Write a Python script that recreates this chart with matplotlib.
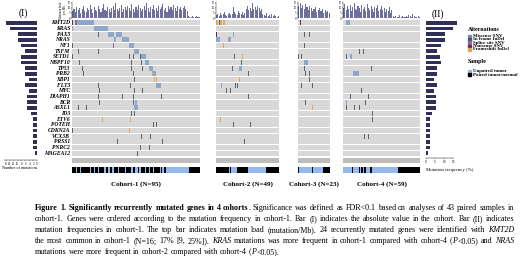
import numpy as np
import matplotlib
matplotlib.use('Agg')
import matplotlib.pyplot as plt
from matplotlib.colors import ListedColormap

W, H = 520, 256
plt.rcParams['font.family'] = ['Liberation Serif', 'DejaVu Serif']
fig = plt.figure(figsize=(5.2, 2.56), dpi=100)

# ---------------- data ----------------
genes = ["KMT2D", "KRAS", "PAX5", "NRAS", "NF1", "TSFM", "SETD1", "NBPF10", "TP53",
         "PRB2", "XBP1", "FLT3", "MYC", "DIAPH1", "BCR", "ASXL1", "ID3", "ETV6",
         "POTEH", "CDKN2A", "VCX3B", "PRSS1", "PNRC2", "MAGEA12"]

cohort_names = ["Cohort-1", "Cohort-2", "Cohort-3", "Cohort-4"]
cohort_sizes = [95, 49, 23, 59]

# Bar (I): number of mutations in cohort-1
mut_counts = [16, 14, 10, 10, 8, 6, 8, 8, 6, 6, 4, 6, 4, 5, 5, 5, 3, 2, 2, 2, 2, 2, 2, 1]
# Bar (II): mutation frequency (%) in cohort-1
mut_freq = [16.8, 14.7, 10.5, 10.5, 8.4, 5.8, 7.9, 8.4, 6.0, 6.3, 4.2, 6.3, 4.2, 5.3,
            5.3, 5.3, 3.2, 2.1, 2.1, 2.1, 2.1, 2.1, 2.1, 1.1]

alt_names = ["Missense SNV", "In frame InDel", "Splice site SNV", "Nonsense SNV", "Frameshift InDel"]
alt_codes = ["M", "I", "S", "N", "F"]

# mutation load (mutation/Mb) per sample
load_c1 = [7, 9, 6, 11, 8, 10, 5, 9, 12, 7,
           6, 10, 8, 13, 9, 5, 11, 8, 7, 12,
           9, 6, 10, 14, 8, 7, 11, 9, 6, 10,
           12, 8, 15, 9, 7, 10, 13, 6, 9, 11,
           8, 12, 10, 7, 14, 9, 6, 11, 8, 13,
           10, 7, 9, 12, 8, 15, 10, 6, 11, 9,
           13, 8, 10, 7, 12, 9, 11, 14, 8, 10,
           6, 12, 9, 11, 8, 13, 10, 7, 12, 9,
           11, 8, 10, 12, 9, 7, 2, 1, 1, 2,
           1, 1, 2, 1, 1]
load_c2 = [3, 4, 2, 5, 3, 4, 6, 3, 2, 4,
           5, 3, 4, 11, 6, 4, 3, 7, 5, 4,
           6, 3, 5, 9, 12, 8, 10, 7, 15, 9,
           11, 8, 12, 10, 7, 9, 4, 3, 2, 5,
           2, 3, 1, 4, 2, 3, 2, 1, 2]
load_c3 = [12, 15, 10, 13, 9, 14, 11, 8, 12, 10, 7, 9, 11, 6, 8, 10, 7, 9, 5, 8, 6, 7, 5]
load_c4 = [10, 14, 8, 12, 9, 13, 7, 11, 15, 9,
           8, 12, 10, 6, 13, 9, 11, 7, 14, 10,
           8, 12, 9, 6, 11, 10, 13, 7, 9, 12,
           8, 10, 6, 9, 7, 11, 5, 8, 2, 1,
           2, 1, 1, 3, 1, 2, 1, 1, 2, 1,
           3, 2, 1, 4, 2, 1, 1, 2, 1]

# sample type: 1 = paired tumor/normal, 0 = unpaired tumor
paired_c1 = ("1110110111" "1110110110" "1111011011" "0111011110" "1111011001"
             "0111011011" "0111101011" "0" "0000000000000000" "11111111")
paired_c2 = "1111111111" "0" "1" "0000" "111111111" "00000000000000" "1111111111"
paired_c3 = "1" "000000000" "1" "0000000" "11111"
paired_c4 = "0000000" "1" "0000" "1" "0" "1" "0" "11" "000" "1" "00000000000000000000" "11111111111111111"

# mutations: code + sample index
muts_c1 = {
    "KMT2D": "N0 N1 S2 S3 M4 M5 M6 M7 M8 M9 M10 M11 M12 M13 M14 M15",
    "KRAS": "M0 M16 M17 M18 M19 M20 M21 M22 M23 M24 M25 M26",
    "PAX5": "I19 M27 M28 M29 M30 M33 M34 M35 M36",
    "NRAS": "M31 M32 M37 M38 M39 M40 M41",
    "NF1": "I0 S30 M42 M43 M44 M45",
    "TSFM": "I4 I19 M46 M47 M48 M49",
    "SETD1": "I0 I42 I45 I50 M51 M52 M53 M54",
    "NBPF10": "I5 I44 I47 I51 M54 M55 M56",
    "TP53": "I7 I44 I47 I52 M57 M58 M59",
    "PRB2": "I8 I45 F59 M60 M61",
    "XBP1": "I46 F61 F62",
    "FLT3": "I19 I43 M62 M63 M64 M65",
    "MYC": "I20 I46 I52",
    "DIAPH1": "I19 I37 I45 I66",
    "BCR": "I20 I45 M47",
    "ASXL1": "I4 I10 M46 M47 M48",
    "ID3": "I44 I46",
    "ETV6": "F22 F43",
    "POTEH": "I60 I62",
    "CDKN2A": "I0 F42",
    "VCX3B": "I51 I58",
    "PRSS1": "I33 I67",
    "PNRC2": "I50 I57",
    "MAGEA12": "I48",
}
muts_c2 = {
    "KMT2D": "F0 F1 I2 F3 F4 F5 F6",
    "PAX5": "N0 M13",
    "NRAS": "M0 M1 M2 M9 M10 M11",
    "NF1": "F5",
    "SETD1": "I14 F20",
    "NBPF10": "I19",
    "TP53": "I12 M18 M19",
    "PRB2": "I25",
    "XBP1": "F18",
    "FLT3": "M4 I15 I16",
    "MYC": "I8 I11",
    "DIAPH1": "I25",
    "ETV6": "F3",
    "POTEH": "I13 I26",
    "PRSS1": "I22",
}
muts_c3 = {
    "KMT2D": "N1",
    "PAX5": "I4 I8",
    "NF1": "I4",
    "SETD1": "I0 I2",
    "NBPF10": "M4 M5 M6",
    "TP53": "I4",
    "PRB2": "I5 I8",
    "XBP1": "I8",
    "FLT3": "I2 I10",
    "BCR": "I5",
    "ASXL1": "F10",
}
muts_c4 = {
    "KMT2D": "M2 M3 M4",
    "TSFM": "I12 I15",
    "SETD1": "I2 M5 M6",
    "TP53": "I21",
    "PRB2": "M8 M9 M10 M11",
    "MYC": "I14",
    "DIAPH1": "I5 I19",
    "BCR": "M2 I17",
    "ASXL1": "I2 I8 I12",
    "ID3": "I22",
    "ETV6": "I22",
    "VCX3B": "I16 I19",
}

loads = [load_c1, load_c2, load_c3, load_c4]
paireds = [paired_c1, paired_c2, paired_c3, paired_c4]
mutss = [muts_c1, muts_c2, muts_c3, muts_c4]

# ---------------- style ----------------
ALT_COL = {"M": "#8ea6ca", "I": "#5a6470", "S": "#8a6e9c", "N": "#6c2459", "F": "#e2a559"}
LEG_COL = {"M": "#6f8db5", "I": "#4b5663", "S": "#8a6e9c", "N": "#6c2459", "F": "#e2a559"}
BG = "#d8d8d8"
LOADC = "#6f6f9d"
BARC = "#2f2f58"
BLUE = "#92b8ec"
BLACK = "#000000"

cx = [(72, 200), (216, 279), (298, 330), (343, 420)]
ROW_TOP, ROW_BOT = 20, 156
NG = len(genes)
row_h = (ROW_BOT - ROW_TOP) / NG


def ax_px(x0, y0, x1, y1):
    return fig.add_axes([x0 / W, 1 - y1 / H, (x1 - x0) / W, (y1 - y0) / H])


rows = np.arange(NG)
for ci in range(4):
    x0, x1 = cx[ci]
    N = cohort_sizes[ci]
    # load bars
    axl = ax_px(x0, 2, x1, 18)
    ld = loads[ci]
    axl.bar(np.arange(len(ld)) + 0.5, ld, width=0.8, color=LOADC, linewidth=0)
    axl.set_xlim(0, N)
    axl.set_ylim(0, 15.5)
    for s in ["top", "right", "bottom"]:
        axl.spines[s].set_visible(False)
    axl.spines["left"].set_linewidth(0.3)
    axl.set_xticks([])
    axl.set_yticks([0, 5, 10, 15])
    axl.tick_params(axis="y", labelsize=2.2, length=0.8, width=0.3, pad=0.3)
    if ci == 0:
        axl.set_ylabel("Mutation load\nper Mb", fontsize=2.2, labelpad=0.5, linespacing=0.9)
    # heatmap
    ax = ax_px(x0, ROW_TOP, x1, ROW_BOT)
    ax.set_xlim(0, N)
    ax.set_ylim(NG - 0.5, -0.5)
    ax.barh(rows, N, left=0, height=0.84, color=BG, linewidth=0)
    for g, s in mutss[ci].items():
        r = genes.index(g)
        for tok in s.split():
            code, idx = tok[0], int(tok[1:])
            w = 1.0 if code == "M" else 0.7
            ax.bar(idx + 0.5, 0.84, bottom=r - 0.42, width=w, color=ALT_COL[code], linewidth=0)
    ax.axis("off")
    # grey annotation strip
    axg = ax_px(x0, 158, x1, 163)
    axg.set_facecolor("#bcbcbc")
    axg.set_xticks([]); axg.set_yticks([])
    for s in axg.spines.values():
        s.set_visible(False)
    # sample type bar
    axs = ax_px(x0, 167, x1, 173)
    vals = np.array([[int(c) for c in paireds[ci]]])
    axs.imshow(vals, aspect="auto", cmap=ListedColormap([BLUE, BLACK]), vmin=0, vmax=1,
               extent=(0, len(paireds[ci]), 0, 1), interpolation="nearest")
    axs.set_xlim(0, N)
    axs.axis("off")
    fig.text((x0 + x1) / 2 / W, 1 - 184 / H, f"{cohort_names[ci]} (N={N})",
             ha="center", va="center", fontsize=5, fontweight="bold")

# gene labels
for i, g in enumerate(genes):
    y = ROW_TOP + (i + 0.5) * row_h
    fig.text(70 / W, 1 - y / H, g, ha="right", va="center", fontsize=4.1,
             fontweight="bold", fontstyle="italic")

# Bar (I)
axI = ax_px(4, ROW_TOP, 37, 160)
axI.barh(rows, mut_counts, height=0.6, color=BARC, linewidth=0)
axI.set_xlim(17, 0)
axI.set_ylim(NG - 0.5 + 4 / row_h, -0.5)
for s in ["top", "right", "left"]:
    axI.spines[s].set_visible(False)
axI.spines["bottom"].set_linewidth(0.3)
axI.set_yticks([])
axI.set_xticks([16, 14, 12, 10, 8, 6, 4, 2, 0])
axI.tick_params(axis="x", labelsize=2.2, length=0.8, width=0.3, pad=0.3)
fig.text(20 / W, 1 - 168 / H, "Number of mutations", ha="center", va="center", fontsize=3.0)
fig.text(23 / W, 1 - 13 / H, "(I)", ha="center", va="center", fontsize=7)

# Bar (II)
axII = ax_px(426, ROW_TOP, 460, 158)
axII.barh(rows, mut_freq, height=0.6, color=BARC, linewidth=0)
axII.set_xlim(0, 18.7)
axII.set_ylim(NG - 0.5 + 2 / row_h, -0.5)
for s in ["top", "right", "left"]:
    axII.spines[s].set_visible(False)
axII.spines["bottom"].set_linewidth(0.3)
axII.spines["bottom"].set_bounds(0, 15)
axII.set_yticks([])
axII.set_xticks([0, 5, 10, 15])
axII.tick_params(axis="x", labelsize=2.4, length=0.8, width=0.3, pad=0.3)
fig.text(426 / W, 1 - 170 / H, "Mutation frequency (%)", ha="left", va="center", fontsize=3.5)
fig.text(438 / W, 1 - 14 / H, "(II)", ha="center", va="center", fontsize=7)

# legend
fig.text(467.5 / W, 1 - 29.3 / H, "Alternations", ha="left", va="center", fontsize=4.3, fontweight="bold")
for k, (code, name) in enumerate(zip(alt_codes, alt_names)):
    y = 36 + 3.35 * k
    fig.patches.append(plt.Rectangle((468 / W, 1 - (y + 1.4) / H), 2.6 / W, 2.8 / H,
                                     transform=fig.transFigure, color=LEG_COL[code], figure=fig))
    fig.text(473 / W, 1 - y / H, name, ha="left", va="center", fontsize=3.5, fontweight="bold")
fig.text(467.5 / W, 1 - 61.3 / H, "Sample", ha="left", va="center", fontsize=4.3, fontweight="bold")
for k, (col, name) in enumerate(zip([BLUE, BLACK], ["Unpaired tumor", "Paired tumor/normal"])):
    y = 71.3 + 3.4 * k
    fig.patches.append(plt.Rectangle((468 / W, 1 - (y + 1.4) / H), 2.6 / W, 2.8 / H,
                                     transform=fig.transFigure, color=col, figure=fig))
    fig.text(473 / W, 1 - y / H, name, ha="left", va="center", fontsize=3.5, fontweight="bold")

# caption (justified)
NORM = {}
BOLD = {"fontweight": "bold"}
ITAL = {"fontstyle": "italic"}
caption = [
    [("Figure 1. Significantly recurrently mutated genes in 4 cohorts", BOLD),
     (". Significance was defined as FDR<0.1 based on analyses of 43 paired samples in", NORM)],
    [("cohort-1. Genes were ordered according to the mutation frequency in cohort-1. Bar (I) indicates the absolute value in  the cohort. Bar (II) indicates", NORM)],
    [("mutation frequencies in cohort-1. The top bar indicates mutation load (mutation/Mb). 24 recurrently mutated genes were identified with ", NORM),
     ("KMT2D", ITAL)],
    [("the most common in cohort-1 (N=16; 17% [9, 25%]). ", NORM), ("KRAS", ITAL),
     (" mutations was more frequent in cohort-1 compared with cohort-4 (", NORM), ("P", ITAL),
     ("<0.05) and ", NORM), ("NRAS", ITAL)],
    [("mutations were more frequent in cohort-2 compared with cohort-4 (", NORM), ("P", ITAL),
     ("<0.05).", NORM)],
]

renderer = fig.canvas.get_renderer()


def measure(txt, style, fs):
    t = fig.text(0, 0, txt, fontsize=fs, **style)
    w = t.get_window_extent(renderer).width
    t.remove()
    return w


def split_words(segs):
    words, cur = [], []
    for text, style in segs:
        parts = text.split(" ")
        for k, p in enumerate(parts):
            if k > 0 and cur:
                words.append(cur)
                cur = []
            if p:
                cur.append((p, style))
    if cur:
        words.append(cur)
    return words


CAP_X0, CAP_X1 = 35, 514
# fit font so that the fullest line matches the text width with normal spacing
fs0 = 6.0
nat = []
for segs in caption[:-1]:
    words = split_words(segs)
    tot = sum(measure(p, st, fs0) for w in words for p, st in w)
    sp = measure("a a", NORM, fs0) - measure("aa", NORM, fs0)
    nat.append(tot + sp * (len(words) - 1))
CAP_FS = fs0 * (CAP_X1 - CAP_X0) / max(nat) * 0.995

space_w = measure("a a", NORM, CAP_FS) - measure("aa", NORM, CAP_FS)
for li, segs in enumerate(caption):
    words = split_words(segs)
    widths = [[measure(p, st, CAP_FS) for p, st in w] for w in words]
    total = sum(sum(ws) for ws in widths)
    if li < len(caption) - 1 and len(words) > 1:
        gap = (CAP_X1 - CAP_X0 - total) / (len(words) - 1)
    else:
        gap = space_w
    x = CAP_X0
    yb = 210.5 + 10.9 * li
    for w, ws in zip(words, widths):
        for (p, st), pw in zip(w, ws):
            fig.text(x / W, 1 - yb / H, p, ha="left", va="baseline", fontsize=CAP_FS, **st)
            x += pw
        x += gap

fig.savefig("out.png", dpi=100)
